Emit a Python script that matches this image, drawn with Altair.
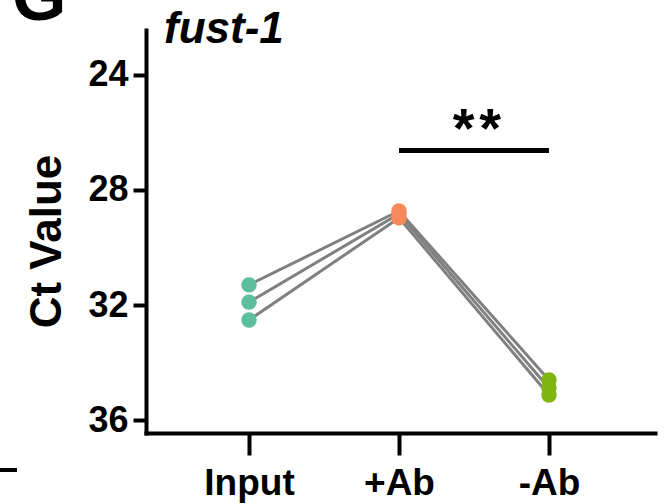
import altair as alt
import pandas as pd

groups = ["Input", "+Ab", "-Ab"]
rep1 = [31.30, 28.73, 34.61]
rep2 = [31.90, 28.83, 34.89]
rep3 = [32.52, 28.97, 35.13]
colors = ["#5DBE9E", "#F7895B", "#80B40E"]
y_ticks = [24, 28, 32, 36]
title_text = "fust-1"
panel_letter = "G"
sig_label = "**"
sig_from, sig_to, sig_y = 1, 2, 26.63

FONT = "Liberation Sans"

rows = []
for r, vals in enumerate([rep1, rep2, rep3]):
    for i, v in enumerate(vals):
        rows.append({"rep": f"r{r+1}", "group": groups[i], "pos": i, "ct": v})
df = pd.DataFrame(rows)

label_expr = " : ".join(
    [f"datum.value == {i} ? '{g}'" for i, g in enumerate(groups[:-1])] + [f"'{groups[-1]}'"]
)

xscale = alt.Scale(domain=[-0.687, 2.707], nice=False, zero=False)
yscale = alt.Scale(domain=[22.435, 36.452], nice=False, zero=False, reverse=True)

x_axis = alt.Axis(
    values=[0, 1, 2], labelExpr=label_expr, title=None, grid=False,
    domainColor="black", domainWidth=4, domainCap="square",
    tickColor="black", tickWidth=4, tickSize=22,
    labelFont=FONT, labelFontSize=37, labelFontWeight="bold", labelColor="black",
    labelPadding=10, labelBaseline="top",
)
y_axis = alt.Axis(
    values=y_ticks, title="Ct Value", grid=False,
    domainColor="black", domainWidth=4, domainCap="square",
    tickColor="black", tickWidth=4, tickSize=13,
    labelFont=FONT, labelFontSize=36, labelFontWeight="bold", labelColor="black",
    labelPadding=5,
    titleFont=FONT, titleFontSize=44, titleFontWeight="bold", titleColor="black",
    titleX=-99, titleY=211, titleAngle=-90, titleAlign="center", titleBaseline="middle",
)


def X(field):
    return alt.X(field, type="quantitative", scale=xscale, axis=x_axis, title=None)


def Y(field):
    return alt.Y(field, type="quantitative", scale=yscale, axis=y_axis, title="Ct Value")


lines = alt.Chart(df).mark_line(color="#808080", strokeWidth=3).encode(
    x=X("pos"), y=Y("ct"), detail="rep:N", order="pos:Q",
)

points = alt.Chart(df).mark_circle(size=240, opacity=1).encode(
    x=X("pos"), y=Y("ct"),
    color=alt.Color("group:N", scale=alt.Scale(domain=groups, range=colors), legend=None),
)

sig_df = pd.DataFrame({"x": [sig_from], "x2": [sig_to], "y": [sig_y],
                       "xm": [(sig_from + sig_to) / 2],
                       "label": ["\u200a".join(sig_label)]})
sig_rule = alt.Chart(sig_df).mark_rule(color="black", strokeWidth=5).encode(
    x=X("x"), x2="x2:Q", y=Y("y"),
)
sig_text = alt.Chart(sig_df).mark_text(
    font=FONT, fontSize=56, fontWeight="bold", color="black", baseline="alphabetic", dy=-4, dx=3
).encode(
    x=X("xm"), y=Y("y"), text="label:N",
)

title_df = pd.DataFrame({"t": [title_text], "g": [panel_letter]})
title = alt.Chart(title_df).mark_text(
    font=FONT, fontSize=44, fontWeight="bold", fontStyle="italic", color="black",
    align="left", baseline="alphabetic",
).encode(x=alt.value(18), y=alt.value(13), text="t:N")

letter = alt.Chart(title_df).mark_text(
    font=FONT, fontSize=70, fontWeight="bold", color="black",
    align="left", baseline="alphabetic",
).encode(x=alt.value(-134), y=alt.value(-10), text="g:N")

dash = alt.Chart(title_df).mark_rule(color="black", strokeWidth=4).encode(
    x=alt.value(-146), x2=alt.value(-129), y=alt.value(440)
)

chart = alt.layer(lines, points, sig_rule, sig_text, title, letter, dash).properties(
    width=509, height=403,
    autosize=alt.AutoSizeParams(type="none"),
    padding={"left": 146, "top": 30, "right": 13, "bottom": 71},
).configure(background="white").configure_view(stroke=None, strokeWidth=0)

chart.save("out.html", embed_options={"renderer": "svg", "actions": False})
